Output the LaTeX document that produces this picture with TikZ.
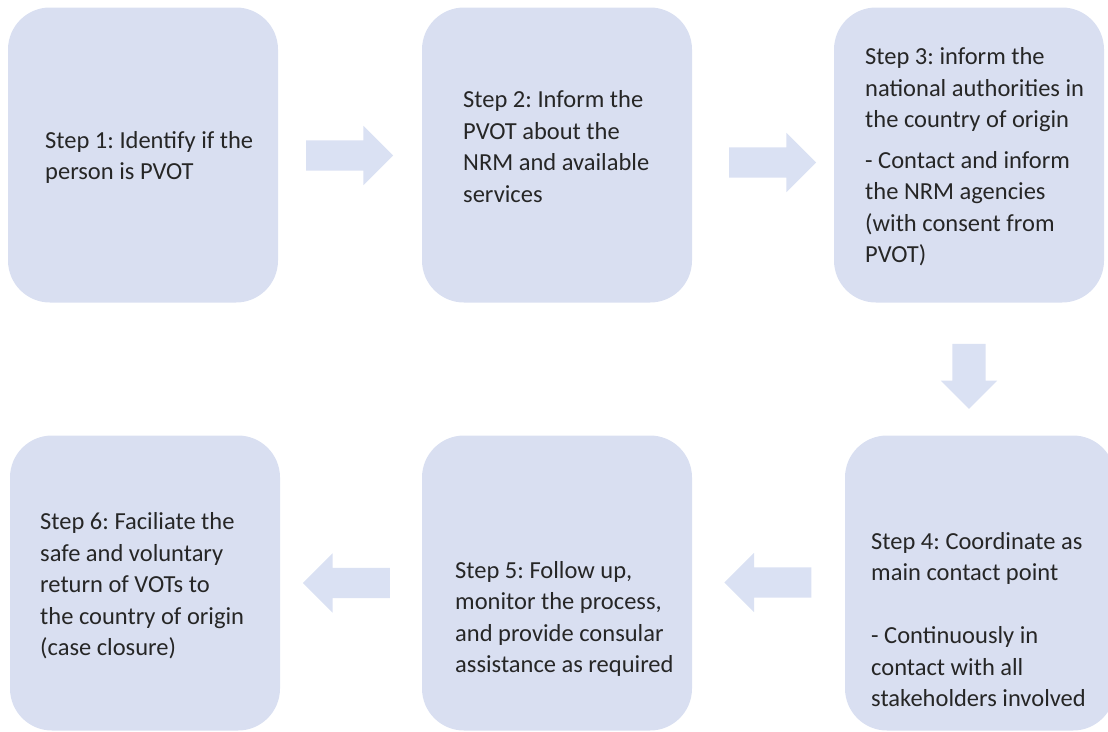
\documentclass[tikz,border=0pt]{standalone}
\usepackage{fontspec}
\setmainfont{Carlito}
\usetikzlibrary{shapes.arrows}

\definecolor{stepfill}{HTML}{D9DFF1}
\definecolor{blkfill}{HTML}{DAE1F3}
\definecolor{stepink}{HTML}{262626}

\frenchspacing

\begin{document}
\begin{tikzpicture}[
  x=1pt, y=-1pt,
  stepbox/.style = {rectangle, rounded corners=42pt, fill=stepfill, draw=none,
                    minimum width=270pt, minimum height=295pt, inner sep=0pt},
  txt/.style     = {anchor=west, align=left, inner sep=0pt, text=stepink,
                    font=\fontsize{24.5pt}{31.5pt}\selectfont},
  blk/.style     = {single arrow, fill=blkfill, draw=none, inner xsep=0pt,
                    inner ysep=15pt, single arrow head extend=14.5pt,
                    minimum height=87pt},
]
\clip (0,0) rectangle (1108,731);

% ---- step boxes ------------------------------------------------------------
\node[stepbox] (s1) at (143,155) {};
\node[stepbox] (s2) at (557,155) {};
\node[stepbox] (s3) at (969,155) {};
\node[stepbox] (s4) at (980,583) {};
\node[stepbox] (s5) at (557,583) {};
\node[stepbox] (s6) at (145,583) {};

% ---- texts -----------------------------------------------------------------
\node[txt] (t1) at (45,157.5)  {Step 1: Identify if the\\person is PVOT};
\node[txt] (t2) at (463,146.5) {Step 2: Inform the\\PVOT about the\\NRM and available\\services};
\node[txt] (t3) at (865,157)   {Step 3: inform the\\national authorities in\\the country of origin\\[9pt]- Contact and inform\\the NRM agencies\\(with consent from\\PVOT)};
\node[txt] (t4) at (871,619.5) {Step 4: Coordinate as\\main contact point\\[31.5pt]- Continuously in\\contact with all\\stakeholders involved};
\node[txt] (t5) at (455,619)   {Step 5: Follow up,\\monitor the process,\\and provide consular\\assistance as required};
\node[txt] (t6) at (40,586)    {Step 6: Faciliate the\\safe and voluntary\\return of VOTs to\\the country of origin\\(case closure)};

% ---- block arrows ----------------------------------------------------------
\node[blk] (a12) at (342,155.5) {};
\node[blk] (a23) at (765,162.5) {};
\node[blk, inner ysep=16.5pt, single arrow head extend=11.5pt,
      minimum height=65pt, rotate=-90] (a34) at (969,368) {};
\node[blk, rotate=180] (a45) at (775.5,582.5) {};
\node[blk, rotate=180] (a56) at (354,583) {};

\end{tikzpicture}
\end{document}
